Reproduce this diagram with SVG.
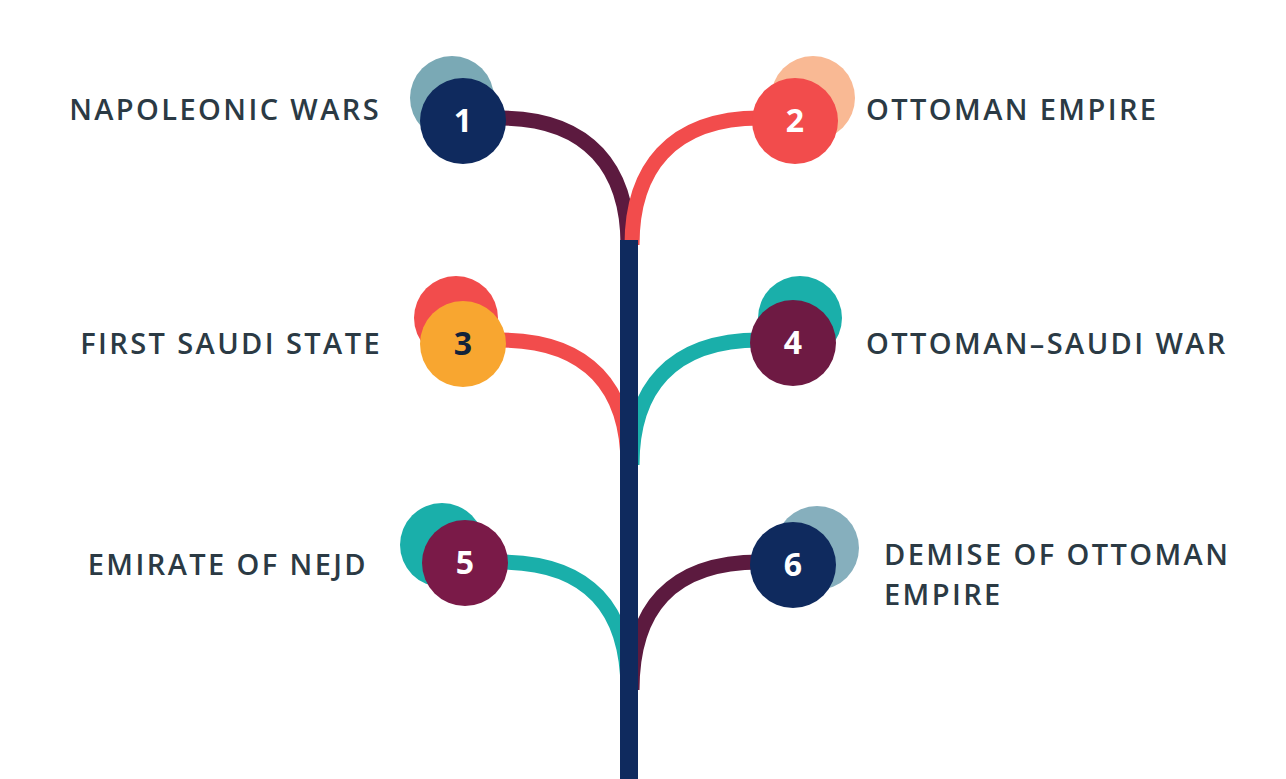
<svg xmlns="http://www.w3.org/2000/svg" width="1286" height="779" viewBox="0 0 1286 779">
<style>
.lbl{font-family:"Open Sans","Liberation Sans",sans-serif;font-weight:600;font-size:29px;letter-spacing:2.4px;fill:#2b3a44}
.num{font-family:"Open Sans","Liberation Sans",sans-serif;font-weight:700;font-size:32px;fill:#fff;text-anchor:middle}
.br{fill:none;stroke-width:15}
</style>
<rect width="1286" height="779" fill="#fff"/>
<g id="connectors">
<path class="br" stroke="#5c1a3f" d="M500,118 C590,118 628,170 628,245"/>
<path class="br" stroke="#f24c4c" d="M760,118 C670,118 632,170 632,245"/>
<path class="br" stroke="#f24c4c" d="M500,340 C590,340 628,390 628,465"/>
<path class="br" stroke="#1aafaa" d="M760,340 C670,340 632,390 632,465"/>
<path class="br" stroke="#1aafaa" d="M500,562 C590,562 628,610 628,690"/>
<path class="br" stroke="#5c1a3f" d="M760,562 C670,562 632,610 632,690"/>
<line x1="629" y1="240" x2="629" y2="779" stroke="#0f2a5e" stroke-width="18"/>
</g>
<g id="n1"><circle cx="452" cy="98" r="42" fill="#7aa9b5"/><circle cx="463" cy="121" r="43" fill="#0f2a5e"/><text class="num" x="463" y="132">1</text><text class="lbl" x="381" y="120" text-anchor="end">NAPOLEONIC WARS</text></g>
<g id="n2"><circle cx="813" cy="98" r="42" fill="#f9b994"/><circle cx="795" cy="121" r="43" fill="#f24c4c"/><text class="num" x="795" y="132">2</text><text class="lbl" x="866" y="120">OTTOMAN EMPIRE</text></g>
<g id="n3"><circle cx="456" cy="318" r="42" fill="#f24c4c"/><circle cx="463" cy="344" r="43" fill="#f8a630"/><text class="num" x="463" y="355" style="fill:#13233a">3</text><text class="lbl" x="382" y="354" text-anchor="end">FIRST SAUDI STATE</text></g>
<g id="n4"><circle cx="800" cy="318" r="42" fill="#1aafaa"/><circle cx="793" cy="343" r="43" fill="#6e1a43"/><text class="num" x="793" y="354">4</text><text class="lbl" x="866" y="354">OTTOMAN–SAUDI WAR</text></g>
<g id="n5"><circle cx="442" cy="545" r="42" fill="#1aafaa"/><circle cx="465" cy="563" r="43" fill="#7a1a48"/><text class="num" x="465" y="574">5</text><text class="lbl" x="368" y="575" text-anchor="end">EMIRATE OF NEJD</text></g>
<g id="n6"><circle cx="817" cy="548" r="42" fill="#86afbd"/><circle cx="793" cy="565" r="43" fill="#0f2a5e"/><text class="num" x="793" y="576">6</text><text class="lbl" x="884" y="565">DEMISE OF OTTOMAN</text><text class="lbl" x="884" y="605">EMPIRE</text></g>
</svg>
